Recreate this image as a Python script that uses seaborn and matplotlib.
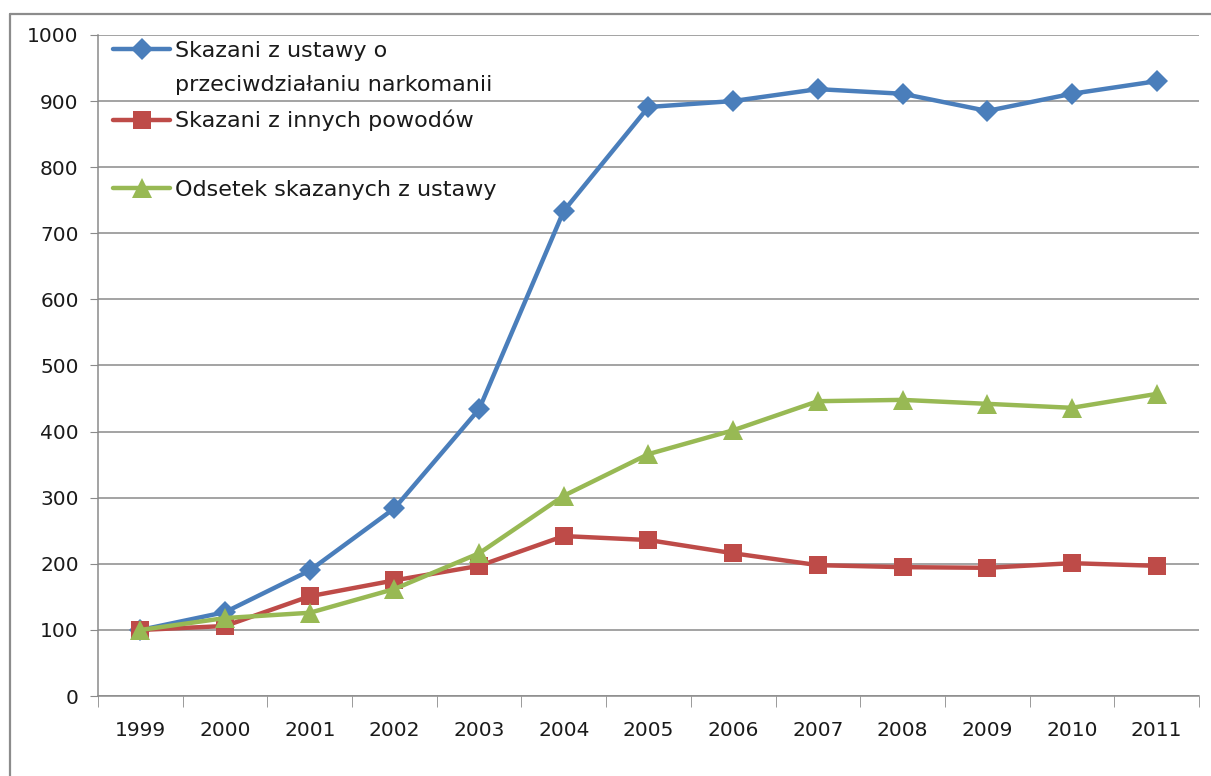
import numpy as np
import pandas as pd
import matplotlib.pyplot as plt
import seaborn as sns
from matplotlib.lines import Line2D

# Data (index, 1999 = 100)
years = [1999, 2000, 2001, 2002, 2003, 2004, 2005, 2006, 2007, 2008, 2009, 2010, 2011]
skazani_ustawa = [100, 127, 190, 284, 434, 734, 891, 900, 918, 911, 885, 911, 930]
skazani_inne = [100, 106, 151, 175, 197, 242, 236, 216, 198, 195, 194, 201, 197]
odsetek = [100, 118, 126, 162, 216, 303, 366, 402, 446, 448, 442, 436, 457]

labels = ["Skazani z ustawy o przeciwdziałaniu narkomanii",
          "Skazani z innych powodów",
          "Odsetek skazanych z ustawy"]
colors = ["#4A7EBB", "#BE4B48", "#98B954"]
markers = ["D", "s", "^"]
msizes = [11.5, 13.5, 14]

df = pd.DataFrame({
    "Rok": years * 3,
    "Wartosc": skazani_ustawa + skazani_inne + odsetek,
    "Seria": np.repeat(labels, len(years)),
})

sns.set_style("white")
plt.rcParams["font.family"] = ["DejaVu Sans"]
FS = 14.5
LFS = 16

fig = plt.figure(figsize=(12.11, 7.76), dpi=100)
ax = fig.add_axes([0.081, 0.103, 0.909, 0.852])

# chart-area border (only top and left visible in the reference crop)
fig.add_artist(Line2D([10 / 1211, 1], [1 - 14 / 776, 1 - 14 / 776],
                      transform=fig.transFigure, color="#8c8c8c", lw=1.6))
fig.add_artist(Line2D([10 / 1211, 10 / 1211], [0, 1 - 14 / 776],
                      transform=fig.transFigure, color="#8c8c8c", lw=1.6))

sns.lineplot(data=df, x="Rok", y="Wartosc", hue="Seria", style="Seria",
             palette=dict(zip(labels, colors)), markers=dict(zip(labels, markers)),
             dashes=False, linewidth=3.2, legend=False, ax=ax, zorder=3)

for line, ms in zip(ax.lines, msizes):
    line.set_markersize(ms)
    line.set_markeredgewidth(0)

ax.set_xlim(years[0] - 0.5, years[-1] + 0.5)
ax.set_ylim(0, 1000)
ax.set_yticks(range(0, 1001, 100))
ax.set_xticks(years)
ax.set_xticks(np.arange(years[0] - 0.5, years[-1] + 1, 1), minor=True)
ax.set_xlabel("")
ax.set_ylabel("")

ax.yaxis.grid(True, color="#8a8a8a", lw=1.1)
ax.set_axisbelow(True)
for s in ["top", "right"]:
    ax.spines[s].set_visible(False)
for s in ["left", "bottom"]:
    ax.spines[s].set_color("#8a8a8a")
    ax.spines[s].set_linewidth(1.1)

ax.tick_params(axis="y", which="major", left=True, length=6, color="#8a8a8a",
               labelsize=FS, pad=8, labelcolor="#1a1a1a")
ax.tick_params(axis="x", which="major", bottom=False, length=0, labelsize=FS, pad=18,
               labelcolor="#1a1a1a")
ax.tick_params(axis="x", which="minor", bottom=True, length=8, color="#8a8a8a")

# Excel-like legend: first label wraps onto a second row, blank row before the last entry
h = ax.lines
blank = Line2D([], [], linestyle="none")
leg_handles = [h[0], blank, h[1], blank, h[2]]
leg_labels = ["Skazani z ustawy o", "przeciwdziałaniu narkomanii",
              "Skazani z innych powodów", " ", "Odsetek skazanych z ustawy"]
leg = ax.legend(leg_handles, leg_labels, loc="upper left", bbox_to_anchor=(0.0055, 1.004),
                frameon=False, fontsize=LFS, handlelength=2.57, handletextpad=0.22,
                labelspacing=0.645, borderaxespad=0.0, borderpad=0.4)
for t in leg.get_texts():
    t.set_color("#1a1a1a")

fig.savefig("out.png", dpi=100)
